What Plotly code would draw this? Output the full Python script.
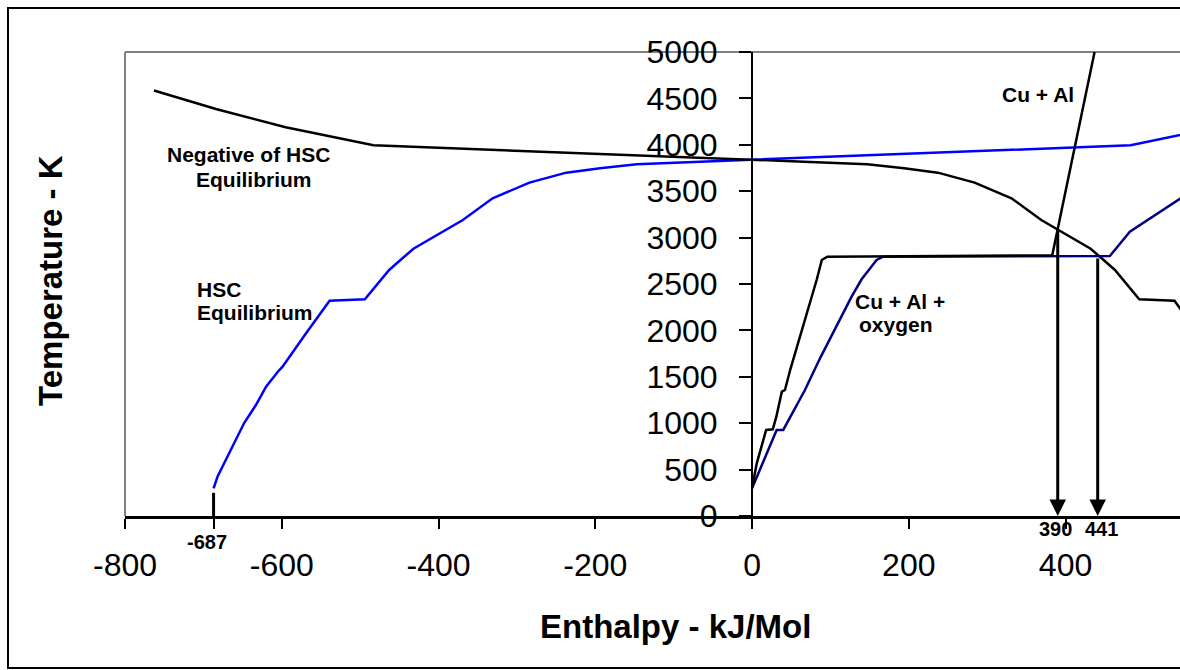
import plotly.graph_objects as go

# ---------------- data ----------------
# HSC equilibrium curve: enthalpy (kJ/mol) vs temperature (K)
hsc_enthalpy = [-687, -682, -667, -648, -633, -620, -605, -599, -569, -539,
                -494, -484, -463, -446, -432, -369, -331, -284, -237, -194,
                -147, -66, 0, 483, 595, 684, 763]
hsc_temp = [298, 423, 679, 1002, 1196, 1393, 1555, 1609, 1969, 2320,
            2335, 2435, 2651, 2777, 2880, 3190, 3424, 3592, 3700, 3747,
            3790, 3818, 3840, 3995, 4190, 4385, 4585]

# "Negative of HSC Equilibrium" = the same curve with enthalpy sign reversed
neg_enthalpy = [-h for h in hsc_enthalpy]
neg_temp = list(hsc_temp)

# Cu + Al
cual_enthalpy = [0, 6, 18, 26.5, 31, 38, 42, 48.6, 82.7, 89, 96, 383, 437]
cual_temp = [298, 568, 927, 934, 1070, 1340, 1358, 1573, 2551, 2759, 2794, 2810, 5000]

# Cu + Al + oxygen
cualo_enthalpy = [0, 31.4, 39.8, 67.5, 86.7, 107.9, 127.0, 139.8, 158.9, 167.3,
                  456.5, 482.0, 507.5, 547]
cualo_temp = [298, 927, 927, 1358, 1699, 2040, 2363, 2551, 2759, 2794,
              2802, 3064, 3208, 3424]

# intersection arrows (enthalpy where curves cross, temperature where arrow starts)
arrow_x = [390, 441]
arrow_top = [3100, 2790]

# specially marked enthalpy values on the x axis
marker_vals = [-687, 390, 441]
marker_text = ["-687", "390", "441"]

x_tick_vals = [-800, -687, -600, -400, -200, 0, 200, 400]
x_tick_text = ["-800", "", "-600", "-400", "-200", "0", "200", "400"]
y_tick_vals = [0, 500, 1000, 1500, 2000, 2500, 3000, 3500, 4000, 4500, 5000]
y_tick_text = [str(v) for v in y_tick_vals]

x_range = [-800, 546]
y_range = [0, 5000]

# ---------------- figure ----------------
FONT = "Liberation Sans, Arial, sans-serif"
W, H = 1180, 670
ML, MR, MT, MB = 125, 0, 52, 154
PW, PH = W - ML - MR, H - MT - MB

def px2data_x(px):
    return x_range[0] + (px - ML) / PW * (x_range[1] - x_range[0])

def px2data_y(py):
    return y_range[0] + (MT + PH - py) / PH * (y_range[1] - y_range[0])

def px2paper_x(px):
    return (px - ML) / PW

def px2paper_y(py):
    return (MT + PH - py) / PH

fig = go.Figure()

fig.add_trace(go.Scatter(x=hsc_enthalpy, y=hsc_temp, mode="lines",
                         line=dict(color="#0000FF", width=2.5), name="HSC Equilibrium"))
fig.add_trace(go.Scatter(x=neg_enthalpy, y=neg_temp, mode="lines",
                         line=dict(color="#000000", width=2.5), name="Negative of HSC Equilibrium"))
fig.add_trace(go.Scatter(x=cualo_enthalpy, y=cualo_temp, mode="lines",
                         line=dict(color="#000080", width=2.5), name="Cu + Al + oxygen"))
fig.add_trace(go.Scatter(x=cual_enthalpy, y=cual_temp, mode="lines",
                         line=dict(color="#000000", width=2.5), name="Cu + Al"))
# marker line at the -687 start point
fig.add_trace(go.Scatter(x=[marker_vals[0], marker_vals[0]], y=[0, 250], mode="lines",
                         line=dict(color="#000000", width=3), hoverinfo="skip"))

annotations = []
# arrows
for xv, top in zip(arrow_x, arrow_top):
    annotations.append(dict(x=xv, y=0, xref="x", yref="y", ax=xv, ay=top,
                            axref="x", ayref="y", text="", showarrow=True,
                            arrowhead=2, arrowsize=1.1, arrowwidth=3,
                            arrowcolor="#000000", standoff=0, startstandoff=0))
# marker value labels
marker_shift = [(-7, -26), (-2, -13), (4, -13)]
for xv, t, (dx, dy) in zip(marker_vals, marker_text, marker_shift):
    annotations.append(dict(x=xv, y=0, xref="x", yref="y", text="<b>%s</b>" % t,
                            showarrow=False, xshift=dx, yshift=dy,
                            xanchor="center", yanchor="middle",
                            font=dict(family=FONT, size=20, color="#000000")))

# curve labels (pixel positions of each text line in the reference)
labels = [
    ("Cu + Al", 1038, 94.2, "center"),
    ("Cu + Al +", 899.5, 301.7, "center"),
    ("oxygen", 896, 324.2, "center"),
    ("Negative of HSC", 248, 154.5, "center"),
    ("Equilibrium", 254, 179.2, "center"),
    ("HSC", 195, 289.2, "left"),
    ("Equilibrium", 195, 312.5, "left"),
]
for t, px, py, anc in labels:
    annotations.append(dict(x=px2data_x(px), y=px2data_y(py), xref="x", yref="y",
                            text="<b>%s</b>" % t, showarrow=False,
                            xanchor=anc, yanchor="middle",
                            font=dict(family=FONT, size=21, color="#000000")))

# axis titles
annotations.append(dict(x=px2paper_x(675), y=px2paper_y(626.7), xref="paper", yref="paper",
                        text="<b>Enthalpy - kJ/Mol</b>", showarrow=False,
                        xanchor="center", yanchor="middle",
                        font=dict(family=FONT, size=33, color="#000000")))
annotations.append(dict(x=px2paper_x(50), y=px2paper_y(281), xref="paper", yref="paper",
                        text="<b>Temperature - K</b>", showarrow=False, textangle=-90,
                        xanchor="center", yanchor="middle",
                        font=dict(family=FONT, size=33, color="#000000")))

shapes = [
    # grey plot frame (left and top)
    dict(type="line", xref="paper", yref="paper", x0=0, y0=0, x1=0, y1=1,
         line=dict(color="#808080", width=2), layer="below"),
    dict(type="line", xref="paper", yref="paper", x0=0, y0=1, x1=1, y1=1,
         line=dict(color="#808080", width=2), layer="below"),
    # black outer frame of the picture
    dict(type="rect", xref="paper", yref="paper",
         x0=px2paper_x(8), x1=px2paper_x(1200), y0=px2paper_y(668), y1=px2paper_y(8),
         line=dict(color="#000000", width=2), layer="below"),
]

fig.update_layout(
    width=W, height=H,
    margin=dict(l=ML, r=MR, t=MT, b=MB, pad=0),
    paper_bgcolor="white", plot_bgcolor="white",
    showlegend=False,
    font=dict(family=FONT, color="#000000"),
    annotations=annotations,
    shapes=shapes,
    xaxis=dict(range=x_range, domain=[0, 1], showgrid=False, zeroline=False,
               showline=True, linecolor="#000000", linewidth=3,
               ticks="outside", ticklen=10, tickwidth=1.5, tickcolor="#000000",
               tickvals=x_tick_vals, ticktext=x_tick_text, ticklabelstandoff=9,
               tickfont=dict(family=FONT, size=32, color="#000000")),
    yaxis=dict(range=y_range, anchor="free",
               position=(0 - x_range[0]) / (x_range[1] - x_range[0]),
               showgrid=False, zeroline=False,
               showline=True, linecolor="#000000", linewidth=2,
               ticks="outside", ticklen=12, tickwidth=1.5, tickcolor="#000000",
               tickvals=y_tick_vals, ticktext=y_tick_text, ticklabelstandoff=15,
               tickfont=dict(family=FONT, size=32, color="#000000")),
)

fig.write_html("out.html")
